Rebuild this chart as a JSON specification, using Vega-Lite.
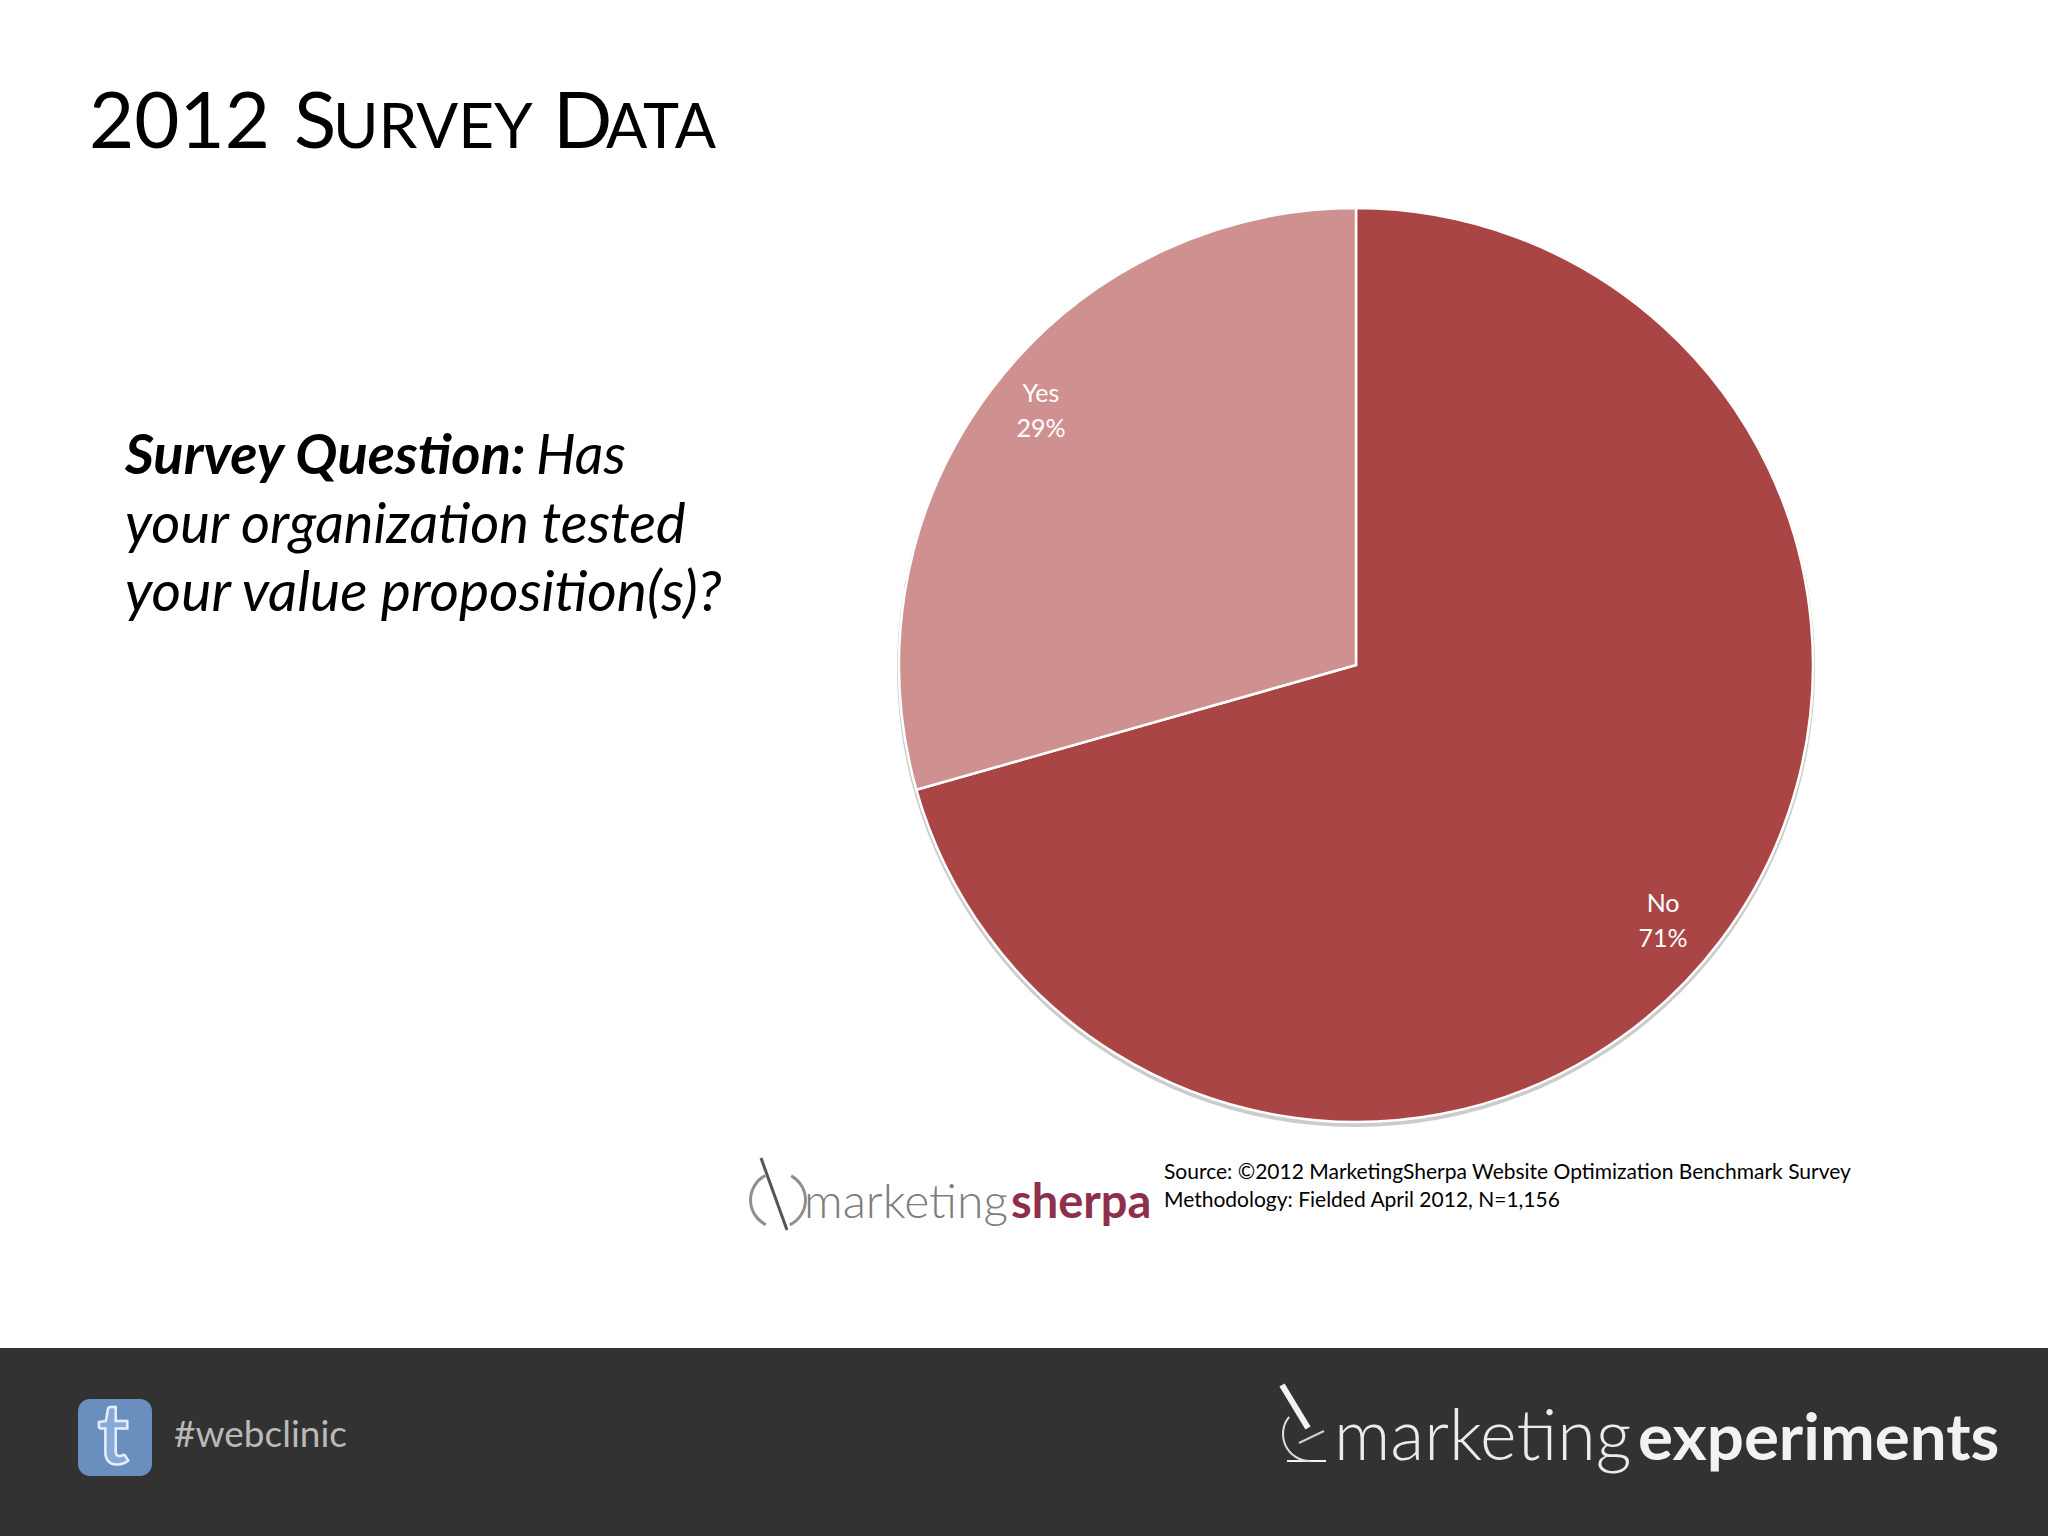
{
"$schema":"https://vega.github.io/schema/vega-lite/v6.json",
"width":2048,"height":1536,"padding":0,
"autosize":{"type":"fit","contains":"padding"},
"background":"#ffffff",
"config":{"view":{"stroke":null},"text":{"font":"Lato","baseline":"alphabetic"}},
"datasets":{"survey":[{"answer":"No","share":0.706,"rank":1},{"answer":"Yes","share":0.294,"rank":2}]},
"layer":[
{"data":{"values":[{"part":"footer"}]},"mark":{"type":"rect","color":"#333233"},"encoding":{"x":{"value":0},"x2":{"value":2048},"y":{"value":1348},"y2":{"value":1536}}},
{"data":{"name":"survey"},"mark":{"type":"arc","x":1356,"y":668,"outerRadius":459,"color":"#cccccc"},"encoding":{"theta":{"field":"share","type":"quantitative","stack":true},"order":{"field":"rank"}}},
{"data":{"name":"survey"},"mark":{"type":"arc","x":1356,"y":665,"outerRadius":457,"stroke":"#ffffff","strokeWidth":2.5},"encoding":{"theta":{"field":"share","type":"quantitative","stack":true},"order":{"field":"rank"},"color":{"field":"answer","type":"nominal","legend":null,"scale":{"domain":["No","Yes"],"range":["#AA4546","#CF9190"]}}}},
{"data":{"name":"survey"},"transform":[{"stack":"share","sort":[{"field":"rank"}],"as":["s0","s1"]},{"calculate":"(datum.s0+datum.s1)/2","as":"mid"},{"filter":"datum.answer==='No'"}],"mark":{"type":"text","x":1340,"y":677,"radius":405,"dy":-17.5,"fontSize":25,"color":"#ffffff","align":"center","baseline":"middle"},"encoding":{"theta":{"field":"mid","type":"quantitative","stack":null},"text":{"field":"answer"}}},
{"data":{"name":"survey"},"transform":[{"stack":"share","sort":[{"field":"rank"}],"as":["s0","s1"]},{"calculate":"(datum.s0+datum.s1)/2","as":"mid"},{"filter":"datum.answer==='No'"}],"mark":{"type":"text","x":1340,"y":677,"radius":405,"dy":17.5,"fontSize":25,"color":"#ffffff","align":"center","baseline":"middle"},"encoding":{"theta":{"field":"mid","type":"quantitative","stack":null},"text":{"field":"share","format":".0%"}}},
{"data":{"name":"survey"},"transform":[{"stack":"share","sort":[{"field":"rank"}],"as":["s0","s1"]},{"calculate":"(datum.s0+datum.s1)/2","as":"mid"},{"filter":"datum.answer==='Yes'"}],"mark":{"type":"text","x":1364,"y":656,"radius":405,"dy":-17.5,"fontSize":25,"color":"#ffffff","align":"center","baseline":"middle"},"encoding":{"theta":{"field":"mid","type":"quantitative","stack":null},"text":{"field":"answer"}}},
{"data":{"name":"survey"},"transform":[{"stack":"share","sort":[{"field":"rank"}],"as":["s0","s1"]},{"calculate":"(datum.s0+datum.s1)/2","as":"mid"},{"filter":"datum.answer==='Yes'"}],"mark":{"type":"text","x":1364,"y":656,"radius":405,"dy":17.5,"fontSize":25,"color":"#ffffff","align":"center","baseline":"middle"},"encoding":{"theta":{"field":"mid","type":"quantitative","stack":null},"text":{"field":"share","format":".0%"}}},
{"data":{"values":[{"t":"2012"}]},"mark":{"type":"text","x":89,"y":148,"fontSize":78,"align":"left","color":"#000000"},"encoding":{"text":{"field":"t"}}},
{"data":{"values":[{"t":"S"}]},"mark":{"type":"text","x":294,"y":148,"fontSize":78,"align":"left","color":"#000000"},"encoding":{"text":{"field":"t"}}},
{"data":{"values":[{"t":"URVEY"}]},"mark":{"type":"text","x":333,"y":148,"fontSize":62,"align":"left","color":"#000000"},"encoding":{"text":{"field":"t"}}},
{"data":{"values":[{"t":"D"}]},"mark":{"type":"text","x":553,"y":148,"fontSize":78,"align":"left","color":"#000000"},"encoding":{"text":{"field":"t"}}},
{"data":{"values":[{"t":"ATA"}]},"mark":{"type":"text","x":606,"y":148,"fontSize":61,"align":"left","color":"#000000"},"encoding":{"text":{"field":"t"}}},
{"data":{"values":[{"t":"Survey Question:"}]},"mark":{"type":"text","x":125,"y":474,"fontSize":56,"fontWeight":"bold","fontStyle":"italic","align":"left","color":"#000000"},"encoding":{"text":{"field":"t"}}},
{"data":{"values":[{"t":"Has"}]},"mark":{"type":"text","x":536,"y":474,"fontSize":56,"fontStyle":"italic","align":"left","color":"#000000"},"encoding":{"text":{"field":"t"}}},
{"data":{"values":[{"t":"your organization tested"}]},"mark":{"type":"text","x":125,"y":543,"fontSize":56,"fontStyle":"italic","align":"left","color":"#000000"},"encoding":{"text":{"field":"t"}}},
{"data":{"values":[{"t":"your value proposition(s)?"}]},"mark":{"type":"text","x":125,"y":611,"fontSize":57,"fontStyle":"italic","align":"left","color":"#000000"},"encoding":{"text":{"field":"t"}}},
{"data":{"values":[{"t":"Source: ©2012 MarketingSherpa Website Optimization Benchmark Survey"}]},"mark":{"type":"text","x":1164,"y":1179,"fontSize":21,"align":"left","color":"#000000"},"encoding":{"text":{"field":"t"}}},
{"data":{"values":[{"t":"Methodology: Fielded April 2012, N=1,156"}]},"mark":{"type":"text","x":1164,"y":1207,"fontSize":21,"align":"left","color":"#000000"},"encoding":{"text":{"field":"t"}}},
{"data":{"values":[{"t":"marketing"}]},"mark":{"type":"text","x":804,"y":1218,"fontSize":48,"fontWeight":300,"align":"left","color":"#7d7d7d"},"encoding":{"text":{"field":"t"}}},
{"data":{"values":[{"t":"sherpa"}]},"mark":{"type":"text","x":1011,"y":1218,"fontSize":47,"fontWeight":"bold","align":"left","color":"#8e2f4c"},"encoding":{"text":{"field":"t"}}},
{"data":{"values":[{"part":"needle"}]},"mark":{"type":"rule","color":"#555555","strokeWidth":3},"encoding":{"x":{"value":761},"y":{"value":1158},"x2":{"value":787},"y2":{"value":1230}}},
{"data":{"values":[{"part":"lens-left"}]},"mark":{"type":"arc","x":778,"y":1200,"innerRadius":26,"outerRadius":29,"color":"#8f8f8f"},"encoding":{"theta":{"value":3.6},"theta2":{"value":5.8}}},
{"data":{"values":[{"part":"lens-right"}]},"mark":{"type":"arc","x":778,"y":1200,"innerRadius":26,"outerRadius":29,"color":"#8f8f8f"},"encoding":{"theta":{"value":0.5},"theta2":{"value":2.7}}},
{"data":{"values":[{"t":"#webclinic"}]},"mark":{"type":"text","x":174,"y":1447,"fontSize":37,"align":"left","color":"#b9b9b9"},"encoding":{"text":{"field":"t"}}},
{"data":{"values":[{"part":"icon"}]},"mark":{"type":"rect","cornerRadius":12,"color":"#6a8fbe"},"encoding":{"x":{"value":78},"x2":{"value":152},"y":{"value":1399},"y2":{"value":1476}}},
{"data":{"values":[{"t":"t"}]},"mark":{"type":"text","x":113,"y":1464,"fontSize":84,"fontWeight":"bold","align":"center","fill":"#86a9d8","stroke":"#e4eefa","strokeWidth":2.5},"encoding":{"text":{"field":"t"}}},
{"data":{"values":[{"t":"marketing"}]},"mark":{"type":"text","x":1334,"y":1460,"fontSize":70,"fontWeight":300,"align":"left","color":"#ebebeb"},"encoding":{"text":{"field":"t"}}},
{"data":{"values":[{"t":"experiments"}]},"mark":{"type":"text","x":1638,"y":1460,"fontSize":65.5,"fontWeight":"bold","align":"left","color":"#f2f2f2"},"encoding":{"text":{"field":"t"}}},
{"data":{"values":[{"part":"tube"}]},"mark":{"type":"rule","color":"#f2f2f2","strokeWidth":6},"encoding":{"x":{"value":1282},"y":{"value":1385},"x2":{"value":1308},"y2":{"value":1428}}},
{"data":{"values":[{"part":"base"}]},"mark":{"type":"rule","color":"#f2f2f2","strokeWidth":2},"encoding":{"x":{"value":1287},"y":{"value":1461},"x2":{"value":1326},"y2":{"value":1461}}},
{"data":{"values":[{"part":"stage"}]},"mark":{"type":"rule","color":"#d0d0d0","strokeWidth":2},"encoding":{"x":{"value":1299},"y":{"value":1443},"x2":{"value":1324},"y2":{"value":1431}}},
{"data":{"values":[{"part":"arm"}]},"mark":{"type":"arc","x":1310,"y":1434,"innerRadius":26,"outerRadius":28,"color":"#e0e0e0"},"encoding":{"theta":{"value":3.14},"theta2":{"value":5.4}}}
]
}
